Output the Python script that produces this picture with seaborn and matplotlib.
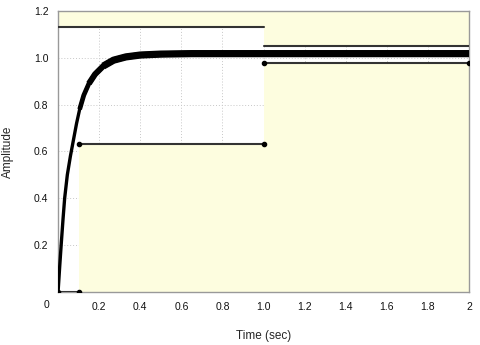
import matplotlib
matplotlib.use("Agg")
import matplotlib.pyplot as plt
import seaborn as sns
import pandas as pd

# step response
time_s = [0, 0.008, 0.015, 0.024, 0.032, 0.045, 0.06, 0.075, 0.09, 0.105, 0.125,
          0.15, 0.18, 0.22, 0.27, 0.33, 0.4, 0.5, 0.65, 0.8, 1.0, 1.5, 2.0]
amplitude = [0, 0.11, 0.2, 0.31, 0.4, 0.5, 0.58, 0.65, 0.72, 0.78, 0.84,
             0.89, 0.93, 0.965, 0.99, 1.004, 1.012, 1.016, 1.018, 1.018, 1.018, 1.018, 1.018]

# design constraint segments: (t_start, t_end, level)
upper_bounds = [(0.0, 1.0, 1.13), (1.0, 2.0, 1.05)]
lower_bounds = [(0.0, 0.1, 0.0), (0.1, 1.0, 0.63), (1.0, 2.0, 0.98)]

x_ticks = [0, 0.2, 0.4, 0.6, 0.8, 1.0, 1.2, 1.4, 1.6, 1.8, 2]
x_labels = ["", "0.2", "0.4", "0.6", "0.8", "1.0", "1.2", "1.4", "1.6", "1.8", "2"]
y_ticks = [0, 0.2, 0.4, 0.6, 0.8, 1.0, 1.2]
y_labels = ["", "0.2", "0.4", "0.6", "0.8", "1.0", "1.2"]

sns.set_theme(style="white")
plt.rcParams['font.family'] = ['Liberation Sans', 'DejaVu Sans']

fig, ax = plt.subplots(figsize=(4.8, 3.45), dpi=100)
fig.subplots_adjust(left=0.121, right=0.977, top=0.968, bottom=0.154)

shade = '#FDFDDF'
for t0, t1, lvl in upper_bounds:
    ax.fill_between([t0, t1], [lvl, lvl], [1.2, 1.2], color=shade, lw=0, zorder=1)
for t0, t1, lvl in lower_bounds:
    ax.fill_between([t0, t1], [0, 0], [lvl, lvl], color=shade, lw=0, zorder=1)

ax.grid(True, color='#c8c8c8', linestyle=(0, (1, 2)), linewidth=0.7, zorder=1.5)

for t0, t1, lvl in upper_bounds:
    ax.plot([t0, t1], [lvl, lvl], color='#333333', lw=1.5, zorder=3)
for t0, t1, lvl in lower_bounds:
    ax.plot([t0, t1], [lvl, lvl], color='#333333', lw=1.5, zorder=3,
            marker='o', markersize=3, markerfacecolor='black', markeredgecolor='black')

df = pd.DataFrame({'Time': time_s, 'Amplitude': amplitude})
# the trace gets heavier as it settles, so stack a few widths
for lo, lw in [(0.0, 2.4), (0.78, 3.4), (0.89, 4.3), (0.965, 5.2)]:
    part = df[df['Amplitude'] >= lo]
    sns.lineplot(data=part, x='Time', y='Amplitude', ax=ax, color='black', linewidth=lw,
                 zorder=4, solid_capstyle='butt', solid_joinstyle='round')

ax.set_xlim(0, 2)
ax.set_ylim(0, 1.2)
ax.set_xticks(x_ticks)
ax.set_xticklabels(x_labels)
ax.set_yticks(y_ticks)
ax.set_yticklabels(y_labels)
ax.tick_params(axis='both', labelsize=7.5, colors='#111111', length=0, pad=7)
ax.text(-0.027, -0.03, "0", transform=ax.transAxes, fontsize=7.5, color='#111111',
        ha='center', va='top')
ax.set_xlabel("Time (sec)", fontsize=8.5, labelpad=13)
ax.set_ylabel("Amplitude", fontsize=8.5, labelpad=14)
for sp in ax.spines.values():
    sp.set_color('#999999')
    sp.set_linewidth(1.0)

fig.savefig("out.png", dpi=100)
